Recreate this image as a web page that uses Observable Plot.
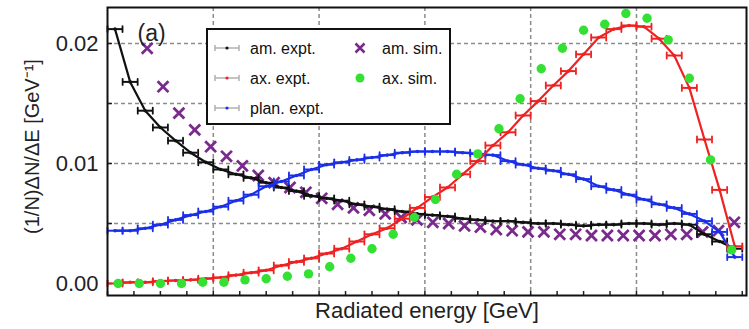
<!DOCTYPE html>
<html><head><meta charset="utf-8">
<script src="https://cdn.jsdelivr.net/npm/d3@7"></script>
<script src="https://cdn.jsdelivr.net/npm/@observablehq/plot@0.6"></script>
<style>body{margin:0;background:#fff;} svg{display:block}</style>
</head><body><div id="chart"></div>
<script>
// ---------- data ----------
const expX = [0.071,0.214,0.357,0.500,0.643,0.786,0.929,1.071,1.214,1.357,1.500,1.643,1.786,1.929,
  2.071,2.214,2.357,2.500,2.643,2.786,2.929,3.071,3.214,3.357,3.500,3.643,3.786,3.929,
  4.071,4.214,4.357,4.500,4.643,4.786,4.929,5.071,5.214,5.357,5.500,5.643,5.786,5.929];
const halfBin = 0.071;
const amExpt = [0.0212,0.0168,0.0144,0.0130,0.0119,0.0109,0.0101,0.0095,0.0091,0.0088,0.0084,0.0080,0.0077,0.0073,
  0.0071,0.0069,0.0066,0.0064,0.0062,0.0060,0.0058,0.0057,0.0056,0.0054,0.0053,0.0052,0.0052,0.0051,
  0.0050,0.0050,0.0049,0.0048,0.0049,0.0049,0.0050,0.0050,0.0049,0.0050,0.0049,0.0041,0.0035,0.0029];
const axExpt = [0.0000,0.0001,0.0001,0.0002,0.00025,0.0003,0.0004,0.0005,0.0007,0.0009,0.0011,0.0015,0.0018,0.0021,
  0.0025,0.0029,0.0035,0.0041,0.0046,0.0054,0.0063,0.0072,0.0080,0.0091,0.0102,0.0115,0.0126,0.0140,
  0.0152,0.0165,0.0177,0.0191,0.0205,0.0212,0.0215,0.0214,0.0204,0.0190,0.0163,0.0120,0.0078,0.0031];
const planExpt = [0.0044,0.0044,0.0046,0.0049,0.0053,0.0057,0.0060,0.0064,0.0069,0.0074,0.0081,0.0085,0.0090,0.0095,
  0.0099,0.0101,0.0103,0.0105,0.0107,0.0109,0.0110,0.0110,0.0110,0.0109,0.0108,0.0107,0.0102,0.0099,
  0.0096,0.0094,0.0091,0.0087,0.0081,0.0078,0.0074,0.0070,0.0066,0.0063,0.0058,0.0052,0.0043,0.0022];
const amSimX = [0.375,0.525,0.675,0.825,0.975,1.125,1.275,1.425,1.575,1.725,1.875,2.025,2.175,2.325,2.475,2.625,2.775,2.925,
  3.075,3.225,3.375,3.525,3.675,3.825,3.975,4.125,4.275,4.425,4.575,4.725,4.875,5.025,5.175,5.325,5.475,5.625,5.775,5.925];
const amSim = [0.0196,0.0164,0.0142,0.0128,0.0114,0.0106,0.0098,0.0090,0.0084,0.0080,0.0076,0.0071,0.0066,0.0063,0.0061,0.0058,0.0055,0.0053,
  0.0051,0.0050,0.0048,0.0047,0.0045,0.0044,0.0043,0.0043,0.0041,0.0041,0.0040,0.0040,0.0040,0.0040,0.0040,0.0041,0.0041,0.0043,0.0044,0.0051];
const axSimX = [0.1,0.3,0.5,0.7,0.9,1.1,1.3,1.5,1.7,1.9,2.1,2.3,2.5,2.7,2.9,3.1,3.3,3.5,3.7,3.9,4.1,4.3,4.5,4.7,4.9,5.1,5.3,5.5,5.7,5.9];
const axSim = [0.0000,0.0000,0.0000,0.0000,0.0001,0.0001,0.0003,0.0004,0.0006,0.0008,0.0014,0.0021,0.0029,0.0041,0.0055,
  0.0070,0.0091,0.0108,0.0129,0.0154,0.0179,0.0196,0.0211,0.0216,0.0225,0.0221,0.0203,0.0171,0.0103,0.0028];

const yTicksAll = [0, 0.005, 0.01, 0.015, 0.02];
const yTickLabels = [0, 0.01, 0.02];
const yGrid = [0.005, 0.01, 0.015, 0.02];
const xGrid = [1, 2, 3, 4, 5];
const xTicks = [0,0.25,0.5,0.75,1,1.25,1.5,1.75,2,2.25,2.5,2.75,3,3.25,3.5,3.75,4,4.25,4.5,4.75,5,5.25,5.5,5.75,6];
const xLabel = "Radiated energy [GeV]";
const yLabel = "(1/N)\u0394N/\u0394E [GeV\u207B\u00B9]";
const panelLabel = "(a)";
const legendNames = ["am. expt.", "ax. expt.", "plan. expt.", "am. sim.", "ax. sim."];

// ---------- styles ----------
const C = {am: "#111111", ax: "#ee2222", plan: "#1a2fe6", amSim: "#7a2a8c", axSim: "#33e033"};
const font = "'Liberation Sans', Arial, Helvetica, sans-serif";

const mk = (ys) => expX.map((x, i) => ({x, y: ys[i]}));
const series = [
  {key: "am", data: mk(amExpt), color: C.am},
  {key: "plan", data: mk(planExpt), color: C.plan},
  {key: "ax", data: mk(axExpt), color: C.ax}
];
const capShape = {draw(ctx, l) { ctx.moveTo(0, 0); ctx.lineTo(0, -l); }};

function exptMarks(s) {
  return [
    Plot.line(s.data, {x: "x", y: "y", stroke: s.color, strokeWidth: 2.2}),
    Plot.ruleY(s.data, {x1: d => d.x - halfBin, x2: d => d.x + halfBin, y: "y", stroke: s.color, strokeWidth: 2}),
    Plot.vector(s.data, {x: d => d.x - halfBin, y: "y", length: 6, anchor: "middle", shape: capShape, stroke: s.color, strokeWidth: 1.8}),
    Plot.vector(s.data, {x: d => d.x + halfBin, y: "y", length: 6, anchor: "middle", shape: capShape, stroke: s.color, strokeWidth: 1.8}),
    Plot.dot(s.data, {x: "x", y: "y", r: 1.8, fill: s.color})
  ];
}

const amSimData = amSimX.map((x, i) => ({x, y: amSim[i]}));
const axSimData = axSimX.map((x, i) => ({x, y: axSim[i]}));

const plot = Plot.plot({
  width: 749, height: 329,
  marginLeft: 107, marginRight: 3, marginTop: 7, marginBottom: 34,
  style: {fontFamily: font, background: "#fff", color: "#222"},
  x: {domain: [0, 6.04]},
  y: {domain: [-0.001, 0.023]},
  marks: [
    Plot.ruleY(yGrid, {stroke: "#8c8c8c", strokeWidth: 1.5, strokeDasharray: "4,3"}),
    Plot.ruleX(xGrid, {stroke: "#8c8c8c", strokeWidth: 1.5, strokeDasharray: "4,3"}),
    Plot.axisY(yTickLabels, {anchor: "left", tickSize: 0, tickPadding: 9, tickFormat: d3.format(".2f"), fontSize: 22, label: null}),
    Plot.axisY(yTicksAll, {anchor: "left", tickSize: -5, tickFormat: () => "", label: null, strokeWidth: 1.5}),
    Plot.axisX(xTicks, {anchor: "bottom", tickSize: -4, tickFormat: () => "", label: null, strokeWidth: 1.5}),
    Plot.dot(amSimData, {x: "x", y: "y", symbol: "times", r: 5, stroke: C.amSim, strokeWidth: 2.8}),
    ...exptMarks(series[0]),
    ...exptMarks(series[1]),
    ...exptMarks(series[2]),
    Plot.dot(axSimData, {x: "x", y: "y", r: 4.7, fill: C.axSim}),
    Plot.frame({stroke: "#111", strokeWidth: 2}),
    Plot.text([panelLabel], {text: d => d, frameAnchor: "top-left", textAnchor: "start", dx: 30, dy: 17, fontSize: 23, fill: "#222"}),
    Plot.text([xLabel], {text: d => d, frameAnchor: "bottom", textAnchor: "middle", dy: 22, fontSize: 22, fill: "#222"}),
    Plot.text([yLabel], {text: d => d, frameAnchor: "left", textAnchor: "middle", rotate: -90, dx: -75, dy: -5, fontSize: 20, fill: "#222"})
  ]
});

// ---------- legend (inside the frame) ----------
const svg = d3.select(plot);
const lg = svg.append("g").attr("font-family", font).attr("font-size", 16).attr("fill", "#111").attr("text-anchor", "start");
lg.append("rect").attr("x", 207).attr("y", 29).attr("width", 243).attr("height", 95)
  .attr("fill", "#fff").attr("stroke", "#111").attr("stroke-width", 2);
const rows = [48, 78, 108];
[["am", 0], ["ax", 1], ["plan", 2]].forEach(([k, i]) => {
  const y = rows[i], g = lg.append("g");
  g.append("line").attr("x1", 215).attr("x2", 239).attr("y1", y).attr("y2", y).attr("stroke", "#b0b0b0").attr("stroke-width", 1.5);
  g.append("line").attr("x1", 215).attr("x2", 215).attr("y1", y - 3).attr("y2", y + 3).attr("stroke", "#b0b0b0").attr("stroke-width", 1.5);
  g.append("line").attr("x1", 239).attr("x2", 239).attr("y1", y - 3).attr("y2", y + 3).attr("stroke", "#b0b0b0").attr("stroke-width", 1.5);
  g.append("circle").attr("cx", 227).attr("cy", y).attr("r", 1.6).attr("fill", C[k]);
  g.append("text").attr("x", 250).attr("y", y).attr("dy", "0.35em").attr("text-anchor", "start").text(legendNames[i]);
});
{
  const y = rows[0], s = 4.5;
  lg.append("path").attr("d", `M${360 - s},${y - s}L${360 + s},${y + s}M${360 - s},${y + s}L${360 + s},${y - s}`)
    .attr("stroke", C.amSim).attr("stroke-width", 2.6).attr("fill", "none");
  lg.append("text").attr("x", 382).attr("y", y).attr("dy", "0.35em").attr("text-anchor", "start").text(legendNames[3]);
  lg.append("circle").attr("cx", 360).attr("cy", rows[1]).attr("r", 4.5).attr("fill", C.axSim);
  lg.append("text").attr("x", 382).attr("y", rows[1]).attr("dy", "0.35em").attr("text-anchor", "start").text(legendNames[4]);
}
document.getElementById("chart").appendChild(plot);
</script>
</body></html>
